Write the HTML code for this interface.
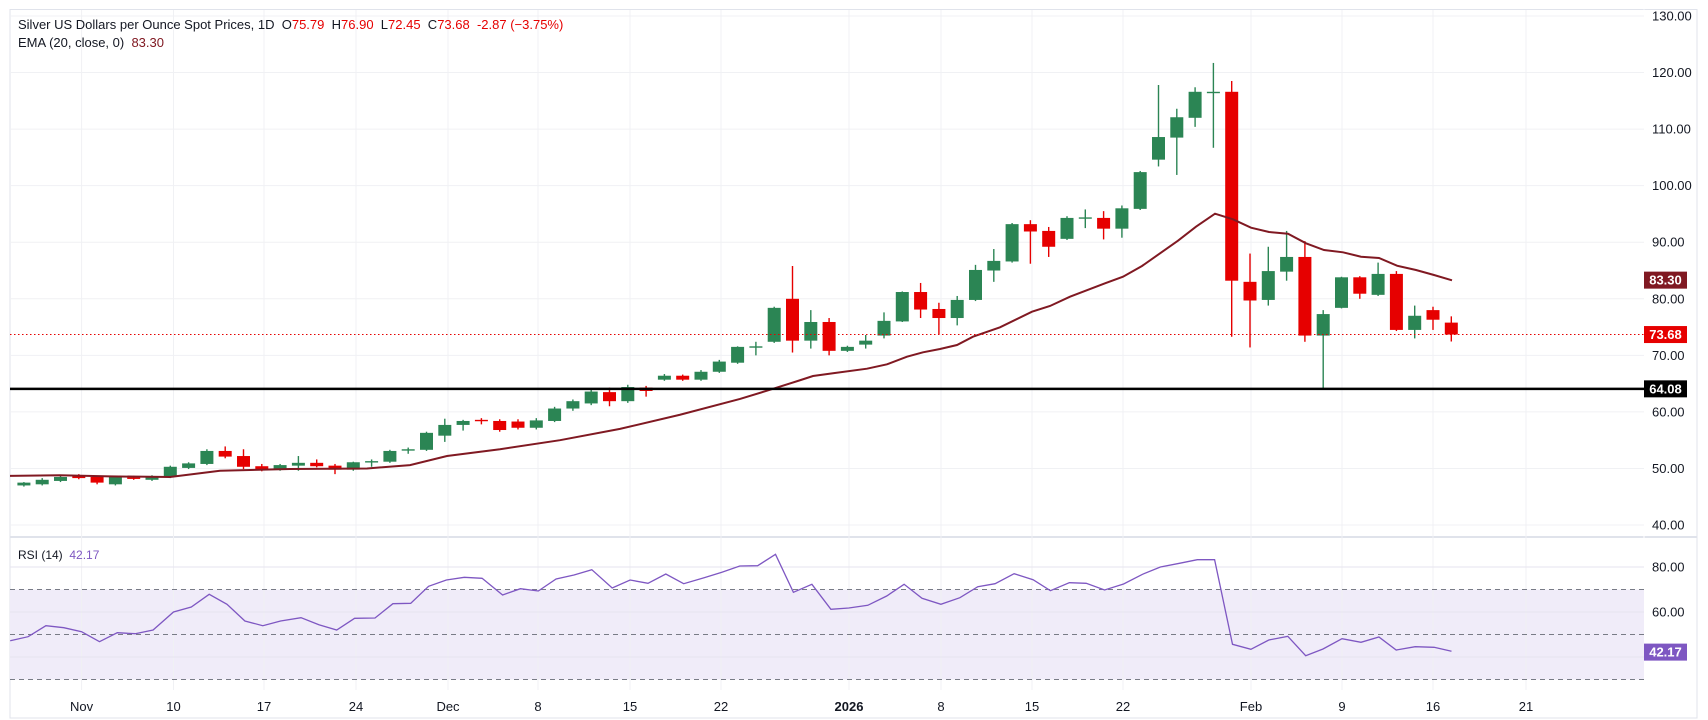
<!DOCTYPE html>
<html><head><meta charset="utf-8"><style>
html,body{margin:0;padding:0;background:#fff;}
svg{display:block;font-family:"Liberation Sans",sans-serif;}
</style></head><body>
<svg id="s" width="1708" height="720" xmlns="http://www.w3.org/2000/svg"></svg>
<script>
const S=document.getElementById('s');let h='';
const Y=v=>16+(130-v)*5.656, RY=r=>567+(80-r)*2.25, X=i=>23.9+i*18.3;
const PR=1644;
// frame
h+=`<rect x="10" y="9.5" width="1687" height="708.5" fill="none" stroke="#e0e3eb"/>`;
h+=`<line x1="10" y1="537" x2="1697" y2="537" stroke="#e0e3eb" stroke-width="2"/>`;
h+=`<line x1="${PR}" y1="9.5" x2="${PR}" y2="690" stroke="#fff" />`;
// rsi shade
h+=`<rect x="10" y="${RY(70)}" width="${PR-10}" height="${RY(30)-RY(70)}" fill="#f0ecf9"/>`;
// vertical grid
const lab=[[81.6,'Nov'],[173.5,'10'],[264,'17'],[356,'24'],[448,'Dec'],[538,'8'],[630,'15'],[721,'22'],[849,'2026'],[941,'8'],[1032,'15'],[1123,'22'],[1251,'Feb'],[1342,'9'],[1433,'16'],[1526,'21']];
lab.forEach(([x,t])=>{h+=`<line x1="${x}" y1="10" x2="${x}" y2="690" stroke="#f0f1f4"/>`;
h+=`<text x="${x}" y="711" font-size="13" fill="#131722" text-anchor="middle" ${t=='2026'?'font-weight="bold"':''}>${t}</text>`;});
// horizontal grid main
for(let v=40;v<=130;v+=10){h+=`<line x1="10" y1="${Y(v)}" x2="${PR}" y2="${Y(v)}" stroke="#f0f1f4"/>`;
h+=`<text x="1652" y="${Y(v)+4.5}" font-size="13" fill="#131722">${v}.00</text>`;}
[80,60,40].forEach(r=>{h+=`<line x1="10" y1="${RY(r)}" x2="${PR}" y2="${RY(r)}" stroke="#e6e3ef"/>`;});
[80,60].forEach(r=>{h+=`<text x="1652" y="${RY(r)+4.5}" font-size="13" fill="#131722">${r}.00</text>`;});
[70,50,30].forEach(r=>{h+=`<line x1="10" y1="${RY(r)}" x2="${PR}" y2="${RY(r)}" stroke="#787b86" stroke-dasharray="5,4"/>`;});
// candles [o,h,l,c]
const C=[[47,47.6,46.8,47.5],[47.2,48.3,47,48],[47.8,48.8,47.6,48.5],[48.7,49,48.1,48.3],[48.5,48.7,47.2,47.5],[47.2,48.7,47,48.5],[48.4,48.7,48,48.2],[48,48.8,47.8,48.5],[48.5,50.5,48.3,50.3],[50.1,51.1,49.9,50.9],[50.8,53.4,50.6,53.1],[53.1,53.9,51.8,52.1],[52.2,53.4,49.9,50.3],[50.4,50.8,49.5,49.7],[49.8,50.8,49.6,50.6],[50.5,52.2,49.6,51],[51,51.6,50.2,50.4],[50.5,50.8,49,49.8],[49.8,51.2,49.6,51.1],[51.1,51.6,50.3,51.3],[51.2,53.3,51,53.1],[53.2,53.7,52.6,53.4],[53.3,56.5,53.1,56.3],[55.8,58.8,54.7,57.7],[57.7,58.6,56.7,58.4],[58.6,58.9,57.8,58.5],[58.4,58.7,56.5,56.8],[58.3,58.7,56.9,57.2],[57.2,58.9,56.9,58.5],[58.4,60.9,58.2,60.6],[60.6,62.2,60.2,61.9],[61.5,63.9,61.2,63.6],[63.5,64.3,61,61.9],[61.9,64.8,61.6,64.4],[64.3,64.6,62.7,63.7],[65.7,66.7,65.5,66.4],[66.4,66.6,65.5,65.7],[65.7,67.4,65.5,67.1],[67.1,69.2,66.9,68.9],[68.7,71.6,68.5,71.5],[71.5,72.4,70,71.6],[72.4,78.6,72.2,78.4],[80,85.8,70.5,72.6],[72.6,78,71.2,75.9],[75.9,76.6,70,70.8],[70.8,71.7,70.6,71.5],[71.9,73.6,71.2,72.6],[73.5,77.6,73,76.1],[76,81.3,75.9,81.2],[81.2,82.8,76.6,78.1],[78.2,79.3,73.7,76.6],[76.6,80.5,75.3,79.8],[79.8,86,79.6,85.1],[85,88.8,83,86.7],[86.6,93.4,86.4,93.2],[93.2,93.9,86.2,91.9],[92,92.7,87.4,89.2],[90.6,94.6,90.4,94.3],[94.4,95.8,92.5,94.4],[94.3,95.5,90.5,92.4],[92.4,96.5,90.8,96],[95.9,102.6,95.7,102.4],[104.6,117.8,103.4,108.6],[108.5,113.6,101.9,112.1],[112,117.4,110.4,116.6],[116.5,121.7,106.7,116.6],[116.6,118.5,73.3,83.2],[83,88,71.4,79.7],[79.8,89.2,78.8,84.9],[84.8,92,83.2,87.4],[87.4,90.2,72.4,73.5],[73.5,78,64.1,77.3],[78.4,83.9,78.3,83.8],[83.8,84,80,80.9],[80.7,86.4,80.5,84.4],[84.4,84.9,74.3,74.5],[74.5,78.8,73,77],[78,78.6,74.5,76.3],[75.79,76.9,72.45,73.68]];
C.forEach((c,i)=>{const [o,hi,lo,cl]=c;const col=cl>=o?'#2b8554':'#e60000';const x=X(i);
h+=`<line x1="${x}" y1="${Y(hi)}" x2="${x}" y2="${Y(lo)}" stroke="${col}" stroke-width="1.4"/>`;
const t=Y(Math.max(o,cl)),b=Y(Math.min(o,cl));h+=`<rect x="${x-6.5}" y="${t}" width="13" height="${Math.max(b-t,1.4)}" fill="${col}"/>`;});
// EMA
const E=[[10,48.7],[60,48.8],[110,48.6],[170,48.5],[220,49.6],[290,49.9],[367,50],[410,50.6],[447,52.2],[500,53.4],[560,55],[620,57],[680,59.5],[740,62.3],[773,64.08],[800,65.6]];
let ep=E.map(p=>[p[0],Y(p[1])]);
[[813,376],[833,373.3],[867,368.7],[887,364.3],[907,356.7],[923,352.3],[940,349],[957,345],[973,336.7],[1000,327.3],[1032,311.7],[1050,306],[1070,296.7],[1105,283.3],[1123,276.7],[1142,266],[1178,240.7],[1196,226.7],[1215,213.7],[1233,219.3],[1251,227.7],[1269,232],[1288,233.7],[1306,243.3],[1324,250],[1343,252.3],[1361,256.7],[1379,258],[1397,265.7],[1416,270],[1434,275],[1452,280.3]].forEach(p=>ep.push(p));
h+=`<polyline points="${ep.map(p=>p.join(',')).join(' ')}" fill="none" stroke="#801922" stroke-width="2"/>`;
// lines
h+=`<line x1="10" y1="${Y(73.68)}" x2="${PR}" y2="${Y(73.68)}" stroke="#e60000" stroke-dasharray="1.5,2.5"/>`;
h+=`<line x1="10" y1="${Y(64.08)}" x2="${PR}" y2="${Y(64.08)}" stroke="#000" stroke-width="2.5"/>`;
// RSI
const R1=[[20,302],[55,290],[90,257],[125,263],[160,275],[195,305],[230,278],[265,281],[300,270],[340,216],[375,201],[410,163],[445,193],[480,243],[515,257],[550,243],[590,233],[625,254],[660,270],[695,235],[735,234],[770,191],[805,190],[840,139],[875,120],[910,112],[945,115],[985,165],[1020,146],[1055,153],[1090,117],[1125,105],[1160,89],[1200,144],[1235,120],[1270,130],[1305,102],[1340,131],[1380,113],[1415,97],[1450,78],[1485,77],[1520,43],[1555,157]].map(p=>[p[0]/1.96,540+p[1]/3]);
const R2=[[22,133],[57,208],[90,204],[125,196],[160,168],[192,133],[225,175],[260,193],[295,173],[328,140],[360,131],[395,101],[430,119],[462,152],[497,128],[528,130],[562,150],[597,132],[632,103],[665,81],[700,70],[733,59],[765,59],[798,313],[832,328],[865,300],[900,289],[933,347],[965,327],[1000,296],[1035,307],[1068,291],[1100,330],[1135,320],[1170,322],[1202,334]].map(p=>[800+p[0]/1.845,540+p[1]/3]);
h+=`<polyline points="${R1.concat(R2).map(p=>p[0].toFixed(1)+','+p[1].toFixed(1)).join(' ')}" fill="none" stroke="#7e57c2" stroke-width="1.3"/>`;
// labels boxes
function box(v,y,bg){h+=`<rect x="${PR}" y="${y-8.5}" width="43" height="17" fill="${bg}"/><text x="1665.5" y="${y+4.5}" font-size="13" fill="#fff" text-anchor="middle" font-weight="bold">${v}</text>`;}
box('83.30',Y(83.3),'#801922');box('73.68',Y(73.68),'#e60000');box('64.08',Y(64.08),'#000');box('42.17',RY(42.17),'#7e57c2');
// legend
h+=`<text x="18" y="29" font-size="13" fill="#131722">Silver US Dollars per Ounce Spot Prices, 1D <tspan>&#160;O</tspan><tspan fill="#e60000">75.79</tspan><tspan>&#160;&#160;H</tspan><tspan fill="#e60000">76.90</tspan><tspan>&#160;&#160;L</tspan><tspan fill="#e60000">72.45</tspan><tspan>&#160;&#160;C</tspan><tspan fill="#e60000">73.68&#160;&#160;-2.87 (−3.75%)</tspan></text>`;
h+=`<text x="18" y="47" font-size="13" fill="#131722">EMA (20, close, 0) <tspan fill="#801922">&#160;83.30</tspan></text>`;
h+=`<text x="18" y="559" font-size="12" fill="#131722">RSI (14) <tspan fill="#7e57c2">&#160;42.17</tspan></text>`;
S.innerHTML=h;
</script>
</body></html>
